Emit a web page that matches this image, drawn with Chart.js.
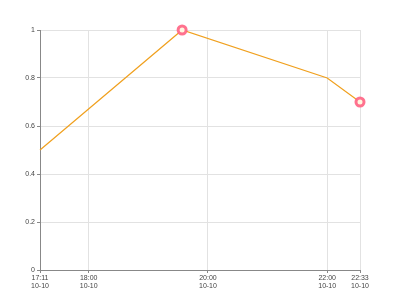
<!DOCTYPE html>
<html>
<head>
<meta charset="utf-8">
<script src="https://cdn.jsdelivr.net/npm/chart.js@4/dist/chart.umd.min.js"></script>
<style>
  html, body { margin: 0; padding: 0; background: #fff; }
  #wrap { width: 400px; height: 300px; }
</style>
</head>
<body>
<div id="wrap"><canvas id="chart"></canvas></div>
<script>
// times as minutes since midnight, 10-10
const times = [17 * 60 + 11, 19 * 60 + 34, 22 * 60, 22 * 60 + 33];
const values = [0.5, 1, 0.8, 0.7];
const highlighted = [false, true, false, true];
const tickTimes = [17 * 60 + 11, 18 * 60, 20 * 60, 22 * 60, 22 * 60 + 33];
const dateLabel = '10-10';

function fmt(m) {
    const h = Math.floor(m / 60).toString().padStart(2, '0');
    const mm = Math.round(m % 60).toString().padStart(2, '0');
    return [`${h}:${mm}`, dateLabel];
}

const ctx = document.getElementById('chart').getContext('2d');
new Chart(ctx, {
    type: 'line',
    data: {
        datasets: [{
            data: times.map((t, i) => ({ x: t, y: values[i] })),
            borderColor: '#f0a01e',
            borderWidth: 1.2,
            tension: 0,
            fill: false,
            clip: false,
            pointRadius: highlighted.map(h => h ? 4 : 0),
            pointBorderWidth: 3,
            pointBorderColor: 'rgba(255, 99, 132, 0.9)',
            pointBackgroundColor: '#fff6e0'
        }]
    },
    options: {
        responsive: true,
        maintainAspectRatio: false,
        animation: false,
        layout: { padding: { top: 30, right: 40, left: 0, bottom: 0 } },
        scales: {
            x: {
                type: 'linear',
                min: times[0],
                max: times[times.length - 1],
                afterBuildTicks: function(axis) {
                    axis.ticks = tickTimes.map(v => ({ value: v }));
                },
                afterFit: function(axis) { axis.height = 30; },
                ticks: {
                    autoSkip: false,
                    maxRotation: 0,
                    padding: 1,
                    color: '#444',
                    font: { family: 'Liberation Sans', size: 7, lineHeight: 1.15 },
                    callback: function(value) { return fmt(value); }
                },
                grid: { color: '#e2e2e2', tickLength: 3, tickColor: '#888' },
                border: { color: '#888', width: 1 }
            },
            y: {
                min: 0,
                max: 1,
                afterFit: function(axis) { axis.width = 40; },
                ticks: {
                    stepSize: 0.2,
                    padding: 2,
                    color: '#444',
                    font: { family: 'Liberation Sans', size: 7 },
                    callback: function(value) { return String(Math.round(value * 10) / 10); }
                },
                grid: { color: '#e2e2e2', tickLength: 3, tickColor: '#888' },
                border: { color: '#888', width: 1 }
            }
        },
        plugins: {
            legend: { display: false },
            tooltip: { enabled: false }
        }
    }
});
</script>
</body>
</html>
